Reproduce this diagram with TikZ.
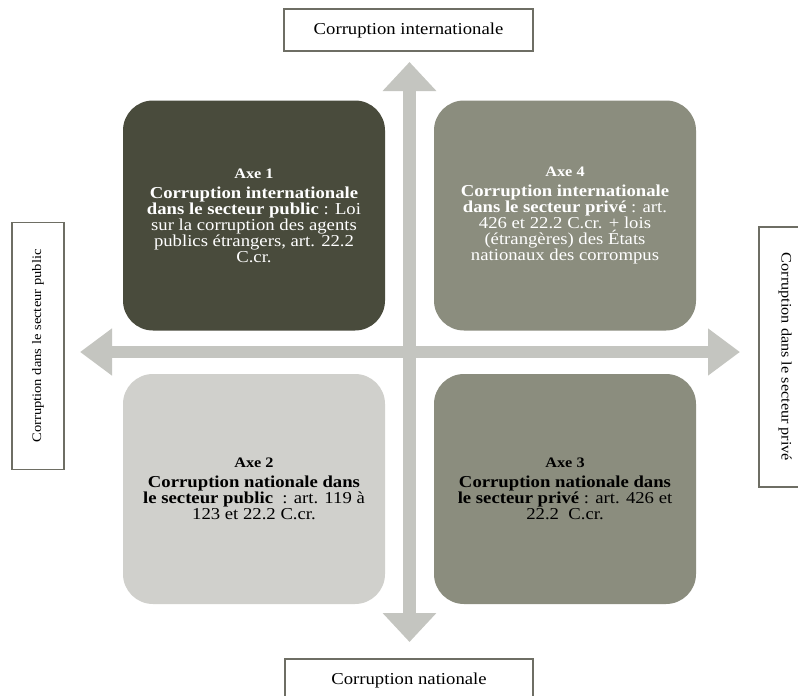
\documentclass[tikz,border=0pt]{standalone}
\usepackage{fontspec}
\setmainfont{Liberation Serif}[FakeStretch=1.12]
\usepackage{tikz}
\usetikzlibrary{arrows.meta,positioning,calc}
\definecolor{axefonce}{RGB}{73,75,60}
\definecolor{axemoyen}{RGB}{139,141,126}
\definecolor{axeclair}{RGB}{208,208,204}
\definecolor{axefleche}{RGB}{196,197,192}
\definecolor{axecadre}{RGB}{110,110,100}
\tikzset{
  axebox/.style={
    rectangle,
    draw=none,
    rounded corners=30pt,
    align=center,
    minimum width=262pt,
    minimum height=230pt,
    inner sep=4pt,
    font=\fontsize{16.7}{16}\selectfont
  },
  axelabel/.style={
    rectangle,
    draw=axecadre,
    fill=white,
    line width=1.2pt,
    align=center,
    inner sep=0pt
  },
  axearrow/.style={
    draw=axefleche,
    line width=12.5pt
  }
}
\newcommand{\axetitre}[1]{{\fontsize{14.5}{16}\selectfont\textbf{#1}}}

\begin{document}
\begin{tikzpicture}[x=1pt,y=-1pt]
  \clip (0,0) rectangle (798,696);
  \fill[white] (0,0) rectangle (798,696);

  % extremites des deux axes
  \coordinate (haut) at (409.5,62);
  \coordinate (bas) at (409.5,642);
  \coordinate (gauche) at (80,352);
  \coordinate (droite) at (740,352);

  \draw[axearrow,{Triangle[length=29pt,width=52pt]}-{Triangle[length=29pt,width=52pt]}]
    (bas) -- (haut);
  \draw[axearrow,{Triangle[length=32pt,width=45pt]}-{Triangle[length=32pt,width=45pt]}]
    (gauche) -- (droite);

  \node[axebox,fill=axefonce,text=white] (axe1) at (254,215.5)
    {\axetitre{Axe 1}\\[4pt]
     \textbf{Corruption internationale}\\
     \textbf{dans le secteur public} : Loi\\
     sur la corruption des agents\\
     publics étrangers, art. 22.2\\
     C.cr.};
  \node[axebox,fill=axemoyen,text=white] (axe4) at (565,215.5)
    {\axetitre{Axe 4}\\[4pt]
     \textbf{Corruption internationale}\\
     \textbf{dans le secteur privé} : art.\\
     426 et 22.2 C.cr. + lois\\
     (étrangères) des États\\
     nationaux des corrompus};
  \node[axebox,fill=axeclair,text=black] (axe2) at (254,489)
    {\axetitre{Axe 2}\\[4pt]
     \textbf{Corruption nationale dans}\\
     \textbf{le secteur public}~ : art. 119 à\\
     123 et 22.2 C.cr.};
  \node[axebox,fill=axemoyen,text=black] (axe3) at (565,489)
    {\axetitre{Axe 3}\\[4pt]
     \textbf{Corruption nationale dans}\\
     \textbf{le secteur privé} : art. 426 et\\
     22.2~ C.cr.};

  \node[axelabel,minimum width=249pt,minimum height=42pt,
    font=\fontsize{16.7}{18}\selectfont] (internationale) at (408.5,30)
    {Corruption internationale};
  \node[axelabel,minimum width=248pt,minimum height=42pt,
    font=\fontsize{16.7}{18}\selectfont] (nationale) at (409,680)
    {Corruption nationale};
  \node[axelabel,minimum width=247pt,minimum height=52pt,rotate=90,
    font=\fontsize{13}{15}\selectfont] (public) at (38,346)
    {Corruption dans le secteur public};
  \node[axelabel,minimum width=260pt,minimum height=52pt,rotate=-90,
    font=\fontsize{14.5}{16}\selectfont] (prive) at (785,357)
    {Corruption dans le secteur privé};
\end{tikzpicture}
\end{document}
